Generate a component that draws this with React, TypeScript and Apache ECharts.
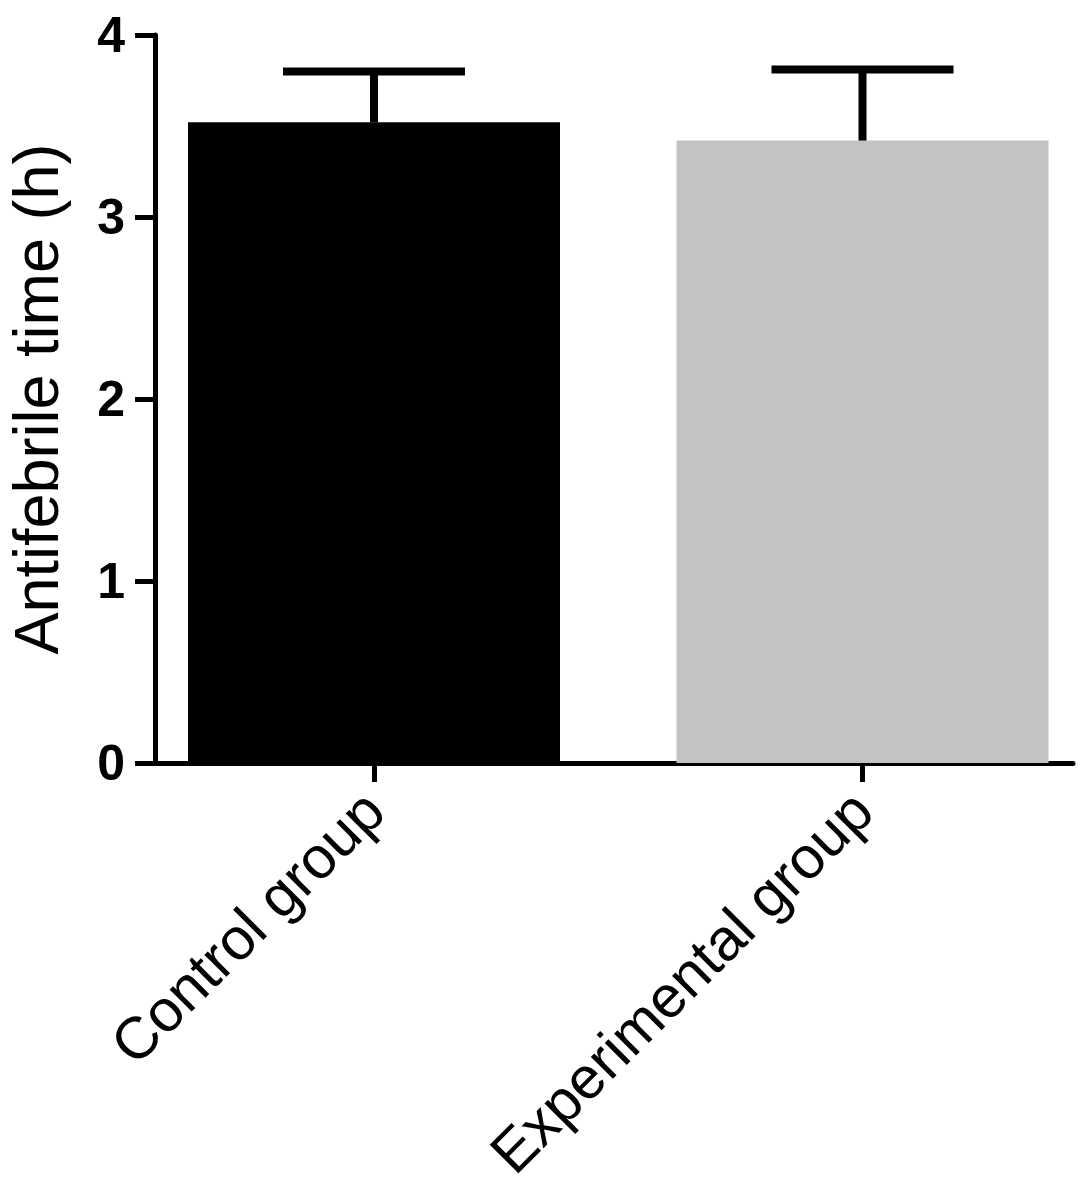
import React, { useEffect, useRef } from "react";
import * as echarts from "echarts";

const categories = ["Control group", "Experimental group"];
const means = [3.52, 3.42];
const errors = [0.28, 0.39];
const barColors = ["#000000", "#c3c3c3"];
const yTicks = [0, 1, 2, 3, 4];

export default function App() {
  const ref = useRef<HTMLDivElement>(null);
  useEffect(() => {
    if (!ref.current) return;
    const chart = echarts.init(ref.current, undefined, { renderer: "svg" });
    const font = "Liberation Sans, Arial, sans-serif";
    const positions = categories.map((_, i) => i);
    chart.setOption({
      animation: false,
      backgroundColor: "#ffffff",
      grid: { left: 155, right: 14, top: 35, bottom: 423, containLabel: false, outerBoundsMode: "none" },
      xAxis: {
        type: "value",
        min: -0.4483,
        max: 1.4309,
        splitLine: { show: false },
        axisLine: { show: true, onZero: false, lineStyle: { color: "#000", width: 5 } },
        axisTick: { show: true, customValues: positions, length: 19, lineStyle: { color: "#000", width: 5 } },
        axisLabel: {
          show: true,
          customValues: positions,
          rotate: 45,
          margin: 38,
          fontSize: 59,
          fontFamily: font,
          color: "#000",
          formatter: (v: number) => categories[Math.round(v)] ?? "",
        },
      },
      yAxis: {
        type: "value",
        min: yTicks[0],
        max: yTicks[yTicks.length - 1],
        interval: 1,
        name: "Antifebrile time (h)",
        nameLocation: "middle",
        nameGap: 88,
        nameTextStyle: { fontSize: 63, fontFamily: font, color: "#000" },
        splitLine: { show: false },
        axisLine: { show: true, onZero: false, lineStyle: { color: "#000", width: 5 } },
        axisTick: { show: true, length: 20, lineStyle: { color: "#000", width: 5 } },
        axisLabel: { margin: 30, fontSize: 50, fontWeight: "bold", fontFamily: font, color: "#000" },
      },
      series: [
        {
          type: "bar",
          barWidth: 372,
          data: means.map((m, i) => ({ value: [positions[i], m], itemStyle: { color: barColors[i] } })),
          z: 2,
        },
        {
          type: "custom",
          z: 3,
          data: means.map((m, i) => [positions[i], m, m + errors[i]]),
          renderItem: (params: any, api: any) => {
            const x = api.value(0);
            const base = api.coord([x, api.value(1)]);
            const top = api.coord([x, api.value(2)]);
            const half = 91;
            const style = { stroke: "#000", lineWidth: 8, fill: "none" };
            return {
              type: "group",
              children: [
                { type: "line", shape: { x1: base[0], y1: base[1], x2: top[0], y2: top[1] }, style },
                { type: "line", shape: { x1: top[0] - half, y1: top[1], x2: top[0] + half, y2: top[1] }, style },
              ],
            };
          },
        },
      ],
    });
    return () => chart.dispose();
  }, []);
  return (
    <div
      ref={ref}
      style={{ position: "fixed", left: 0, top: 0, width: 1087, height: 1186, background: "#fff" }}
    />
  );
}
